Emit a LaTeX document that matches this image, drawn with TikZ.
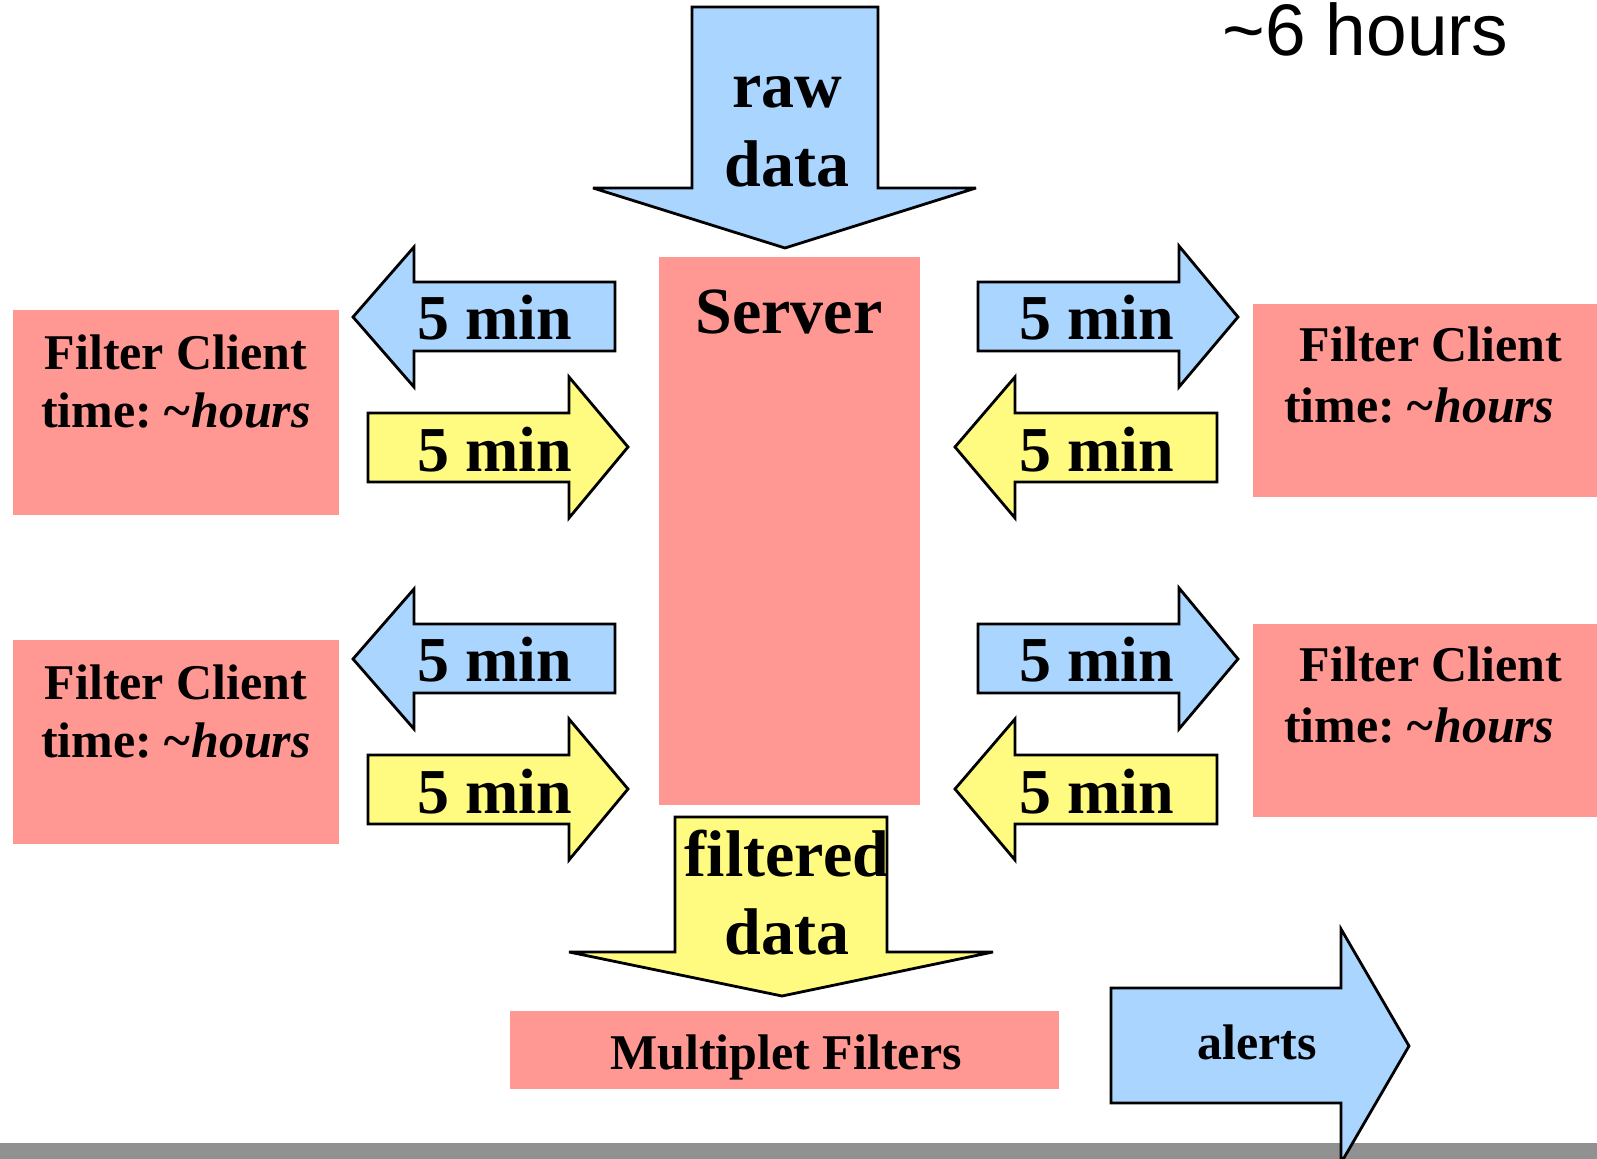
\documentclass[tikz,border=0pt]{standalone}
\usepackage{fontspec}
\setmainfont{Liberation Serif}
\newfontfamily\arialfont{Liberation Sans}
\definecolor{cblue}{HTML}{A9D5FF}
\definecolor{cyellow}{HTML}{FFFB80}
\definecolor{cpink}{HTML}{FF9893}
\definecolor{cgray}{HTML}{919191}
\newcommand{\hrs}{\textit{\kern-0.12em\textasciitilde hours}}
\begin{document}
\begin{tikzpicture}[x=0.5pt,y=-0.5pt,
  bluearrow/.style={draw=black,line width=1.4pt,fill=cblue,line join=miter,miter limit=4},
  yellowarrow/.style={draw=black,line width=1.4pt,fill=cyellow,line join=miter,miter limit=4},
  pinkbox/.style={fill=cpink},
  lbl/.style={anchor=base,inner sep=0pt,align=center},
  minfont/.style={font=\fontsize{32}{38}\selectfont\bfseries},
  bigfont/.style={font=\fontsize{33}{39.5}\selectfont\bfseries},
  clientfont/.style={font=\fontsize{25}{29}\selectfont\bfseries}]
\useasboundingbox (0,0) rectangle (1597,1159);
\clip (0,0) rectangle (1597,1159);
% bottom bar
\fill[cgray] (0,1143) rectangle (1597,1159);
% title
\node[lbl,anchor=base west,font=\arialfont\fontsize{36.5}{40}\selectfont] (title) at (1222,56) {\textasciitilde6 hours};
% pink boxes
\fill[pinkbox] (659,257) rectangle (920,805);
\fill[pinkbox] (13,310) rectangle (339,515);
\fill[pinkbox] (13,640) rectangle (339,844);
\fill[pinkbox] (1253,304) rectangle (1597,497);
\fill[pinkbox] (1253,624) rectangle (1597,817);
\fill[pinkbox] (510,1011) rectangle (1059,1089);
% raw data arrow
\draw[bluearrow] (692,7) -- (878,7) -- (878,188) -- (976,188) -- (785,248) -- (593,188) -- (692,188) -- cycle;
\node[lbl,bigfont] (raw) at (787,187) {raw\\data};
% server
\node[lbl,bigfont] (server) at (789,334) {Server};
% side arrows
\foreach \o/\n in {0/a,342/b}{
  \draw[bluearrow] (353,317+\o) -- (414,247+\o) -- (414,282+\o) -- (615,282+\o) -- (615,351+\o) -- (414,351+\o) -- (414,387+\o) -- cycle;
  \node[lbl,minfont] (lb\n) at (495,340+\o) {5 min};
  \draw[yellowarrow] (368,413+\o) -- (569,413+\o) -- (569,377+\o) -- (628,447+\o) -- (569,518+\o) -- (569,482+\o) -- (368,482+\o) -- cycle;
  \node[lbl,minfont] (ly\n) at (495,472+\o) {5 min};
  \draw[bluearrow] (978,282+\o) -- (1179,282+\o) -- (1179,246+\o) -- (1238,317+\o) -- (1179,387+\o) -- (1179,351+\o) -- (978,351+\o) -- cycle;
  \node[lbl,minfont] (rb\n) at (1097,340+\o) {5 min};
  \draw[yellowarrow] (955,447+\o) -- (1015,377+\o) -- (1015,413+\o) -- (1217,413+\o) -- (1217,482+\o) -- (1015,482+\o) -- (1015,518+\o) -- cycle;
  \node[lbl,minfont] (ry\n) at (1097,472+\o) {5 min};
}
% client texts
\node[lbl,clientfont] (cla) at (176,428) {Filter Client\\time: \hrs};
\node[lbl,clientfont] (clb) at (176,758) {Filter Client\\time: \hrs};
\node[lbl,font=\fontsize{25}{30.5}\selectfont\bfseries] (cra) at (1431,423) {Filter Client\\time: \hrs\hspace*{12pt}};
\node[lbl,font=\fontsize{25}{30.5}\selectfont\bfseries] (crb) at (1431,743) {Filter Client\\time: \hrs\hspace*{12pt}};
% filtered data arrow
\draw[yellowarrow] (675,817) -- (887,817) -- (887,952) -- (993,952) -- (782,996) -- (569,952) -- (675,952) -- cycle;
\node[lbl,font=\fontsize{33}{39}\selectfont\bfseries] (filt) at (787,955) {filtered\\data};
\node[lbl,clientfont] (mult) at (786,1070) {Multiplet Filters};
% alerts arrow
\draw[bluearrow] (1111,988) -- (1341,988) -- (1341,929) -- (1409,1046) -- (1341,1163) -- (1341,1103) -- (1111,1103) -- cycle;
\node[lbl,font=\fontsize{25}{30}\selectfont\bfseries] (alerts) at (1257,1059) {alerts};
\end{tikzpicture}
\end{document}
